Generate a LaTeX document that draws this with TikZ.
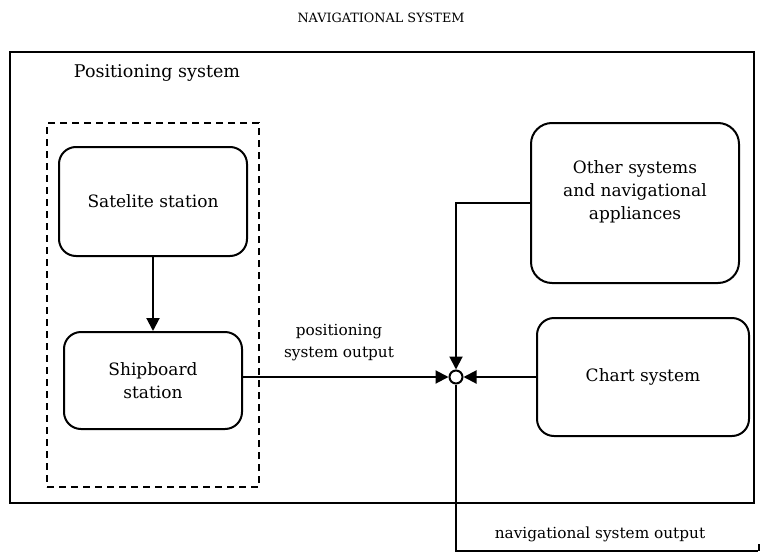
\documentclass[tikz,border=0pt]{standalone}
\usepackage{fontspec}
\setmainfont{DejaVu Serif}
\usetikzlibrary{arrows.meta}
\begin{document}
\begin{tikzpicture}[x=1pt,y=-1pt,
  frame/.style={draw, line width=2pt, inner sep=0pt},
  box/.style={draw, line width=2pt, rounded corners=17pt, inner sep=0pt, align=center,
    font=\fontsize{17}{23}\selectfont},
  link/.style={line width=2pt},
  arr/.style={link, -{Triangle[length=13pt,width=13pt]}},
  lbl/.style={align=center, inner sep=0pt}]
\useasboundingbox (0,0) rectangle (760,554);

% title
\node[lbl, font=\fontsize{12.8}{15}\selectfont] (title) at (381,18) {NAVIGATIONAL SYSTEM};

% outer frame of the navigational system
\node[frame, minimum width=744.5pt, minimum height=451pt] (nav) at (381.75,277.5) {};
\node[lbl, font=\fontsize{17.5}{21}\selectfont] (postitle) at (157,73) {Positioning system};

% positioning system (dashed)
\node[frame, dashed, dash pattern=on 7pt off 5pt, minimum width=212pt, minimum height=364pt] (pos) at (153,305) {};

% blocks
\node[box, minimum width=188pt, minimum height=109pt] (sat) at (153,201.5) {Satelite station};
\node[box, minimum width=178pt, minimum height=97pt] (ship) at (153,380.5) {Shipboard\\station};
\node[box, rounded corners=21pt, minimum width=208pt, minimum height=160pt] (other) at (635,203) {Other systems\\and navigational\\appliances\\[2pt]};
\node[box, minimum width=212pt, minimum height=118pt] (chart) at (643,377) {Chart system};

% summing junction
\node[circle, draw, line width=2pt, fill=white, minimum size=13pt, inner sep=0pt] (j) at (456,377) {};

% connectors
\draw[arr] (sat.south) -- (ship.north);
\draw[arr] (ship.east |- j) -- (j.west);
\draw[arr] (chart.west) -- (j.east);
\draw[arr] (other.west) -- (other.west -| j) -- (j.north);

\node[lbl, font=\fontsize{15.3}{22}\selectfont] (posout) at (339,343) {positioning\\system output};

% output of the navigational system
\coordinate (outend) at (758,551);
\coordinate (ticktop) at (759,544);
\draw[link] (j.south) -- (j.south |- outend) -- (outend);
\draw[line width=1.4pt] (ticktop) -- (ticktop |- outend);
\node[lbl, font=\fontsize{15.3}{19}\selectfont] (navout) at (600,534) {navigational system output};
\end{tikzpicture}
\end{document}
